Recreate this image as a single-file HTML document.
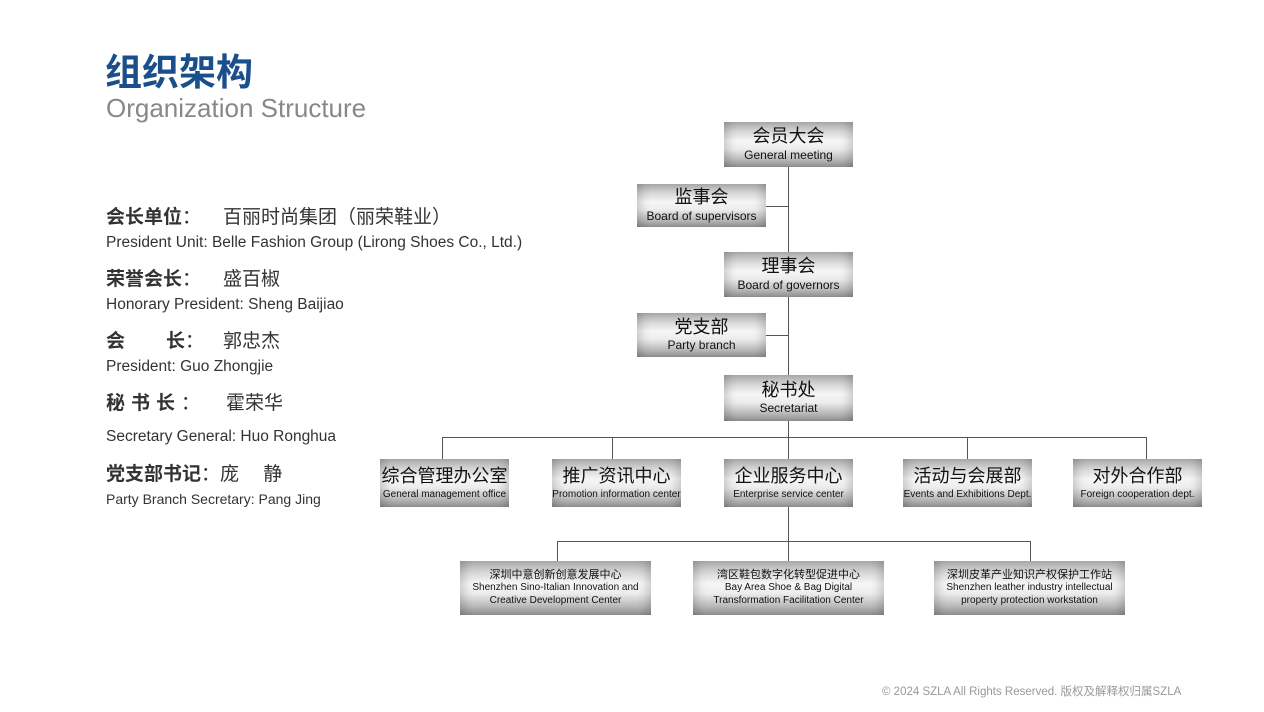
<!DOCTYPE html>
<html><head><meta charset="utf-8"><style>
body{margin:0;width:1264px;height:712px;background:#fff;position:relative;overflow:hidden;font-family:"Liberation Sans","Noto Sans CJK SC",sans-serif;}
.a{position:absolute;white-space:nowrap;}
.l{position:absolute;background:#555;}
.b{position:absolute;box-sizing:border-box;background:linear-gradient(to bottom,#a8a8a8 0%,#d8d8d8 22%,#f6f6f6 42%,#ececec 60%,#bdbdbd 82%,#8e8e8e 100%);box-shadow:inset 12px 0 10px -8px rgba(0,0,0,.18),inset -12px 0 10px -8px rgba(0,0,0,.18);text-align:center;color:#111;display:flex;flex-direction:column;justify-content:center;align-items:center;line-height:1.15;}
.b .c{font-size:18px;margin-bottom:2px;}
.b .e{font-size:12px;}
.s .c{font-size:11px;margin-bottom:1px;}
.s .e{font-size:10px;line-height:1.25;}
.lab{font-size:19px;font-weight:bold;color:#333;}
.val{font-size:19px;color:#333;}
.en{font-size:15.5px;color:#333;}
</style></head><body>
<div class="a" style="left:105px;top:42px;font-size:37px;font-weight:bold;color:#1b4f8c;">组织架构</div>
<div class="a" style="left:106px;top:93px;font-size:26px;color:#888;">Organization Structure</div>

<div class="a lab" style="left:106px;top:202px;">会长单位<span style="font-weight:normal">：</span></div>
<div class="a val" style="left:223px;top:202px;">百丽时尚集团（丽荣鞋业）</div>
<div class="a en" style="left:106px;top:234px;">President Unit: Belle Fashion Group (Lirong Shoes Co., Ltd.)</div>

<div class="a lab" style="left:106px;top:264px;">荣誉会长<span style="font-weight:normal">：</span></div>
<div class="a val" style="left:223px;top:264px;">盛百椒</div>
<div class="a en" style="left:106px;top:296px;">Honorary President: Sheng Baijiao</div>

<div class="a lab" style="left:106px;top:326px;">会</div>
<div class="a lab" style="left:166px;top:326px;">长<span style="font-weight:normal">：</span></div>
<div class="a val" style="left:223px;top:326px;">郭忠杰</div>
<div class="a en" style="left:106px;top:358px;">President: Guo Zhongjie</div>

<div class="a lab" style="left:106px;top:388px;letter-spacing:6px;">秘书长<span style="font-weight:normal">：</span></div>
<div class="a val" style="left:226px;top:388px;">霍荣华</div>
<div class="a en" style="left:106px;top:428px;">Secretary General: Huo Ronghua</div>

<div class="a lab" style="left:106px;top:459px;">党支部书记<span style="font-weight:normal">：</span><span style="font-weight:normal">庞　 静</span></div>
<div class="a en" style="left:106px;top:491px;font-size:14px;">Party Branch Secretary: Pang Jing</div>

<div class="l" style="left:788px;top:167px;width:1px;height:394px;"></div>
<div class="l" style="left:766px;top:206px;width:22px;height:1px;"></div>
<div class="l" style="left:766px;top:335px;width:22px;height:1px;"></div>
<div class="l" style="left:442px;top:437px;width:705px;height:1px;"></div>
<div class="l" style="left:442px;top:437px;width:1px;height:22px;"></div>
<div class="l" style="left:612px;top:437px;width:1px;height:22px;"></div>
<div class="l" style="left:967px;top:437px;width:1px;height:22px;"></div>
<div class="l" style="left:1146px;top:437px;width:1px;height:22px;"></div>
<div class="l" style="left:557px;top:541px;width:474px;height:1px;"></div>
<div class="l" style="left:557px;top:541px;width:1px;height:20px;"></div>
<div class="l" style="left:1030px;top:541px;width:1px;height:20px;"></div>

<div class="b" style="left:724px;top:122px;width:129px;height:45px;"><div class="c">会员大会</div><div class="e">General meeting</div></div>
<div class="b" style="left:637px;top:184px;width:129px;height:43px;"><div class="c">监事会</div><div class="e">Board of supervisors</div></div>
<div class="b" style="left:724px;top:252px;width:129px;height:45px;"><div class="c">理事会</div><div class="e">Board of governors</div></div>
<div class="b" style="left:637px;top:313px;width:129px;height:44px;"><div class="c">党支部</div><div class="e">Party branch</div></div>
<div class="b" style="left:724px;top:375px;width:129px;height:46px;"><div class="c">秘书处</div><div class="e">Secretariat</div></div>

<div class="b" style="left:380px;top:459px;width:129px;height:48px;"><div class="c">综合管理办公室</div><div class="e" style="font-size:10px">General management office</div></div>
<div class="b" style="left:552px;top:459px;width:129px;height:48px;"><div class="c">推广资讯中心</div><div class="e" style="font-size:10px">Promotion information center</div></div>
<div class="b" style="left:724px;top:459px;width:129px;height:48px;"><div class="c">企业服务中心</div><div class="e" style="font-size:10px">Enterprise service center</div></div>
<div class="b" style="left:903px;top:459px;width:129px;height:48px;"><div class="c">活动与会展部</div><div class="e" style="font-size:10px">Events and Exhibitions Dept.</div></div>
<div class="b" style="left:1073px;top:459px;width:129px;height:48px;"><div class="c">对外合作部</div><div class="e" style="font-size:10px">Foreign cooperation dept.</div></div>

<div class="b s" style="left:460px;top:561px;width:191px;height:54px;"><div class="c">深圳中意创新创意发展中心</div><div class="e">Shenzhen Sino-Italian Innovation and<br>Creative Development Center</div></div>
<div class="b s" style="left:693px;top:561px;width:191px;height:54px;"><div class="c">湾区鞋包数字化转型促进中心</div><div class="e">Bay Area Shoe &amp; Bag Digital<br>Transformation Facilitation Center</div></div>
<div class="b s" style="left:934px;top:561px;width:191px;height:54px;"><div class="c">深圳皮革产业知识产权保护工作站</div><div class="e">Shenzhen leather industry intellectual<br>property protection workstation</div></div>

<div class="a" style="left:882px;top:683px;font-size:11.5px;color:#999;">© 2024 SZLA All Rights Reserved. 版权及解释权归属SZLA</div>
</body></html>
